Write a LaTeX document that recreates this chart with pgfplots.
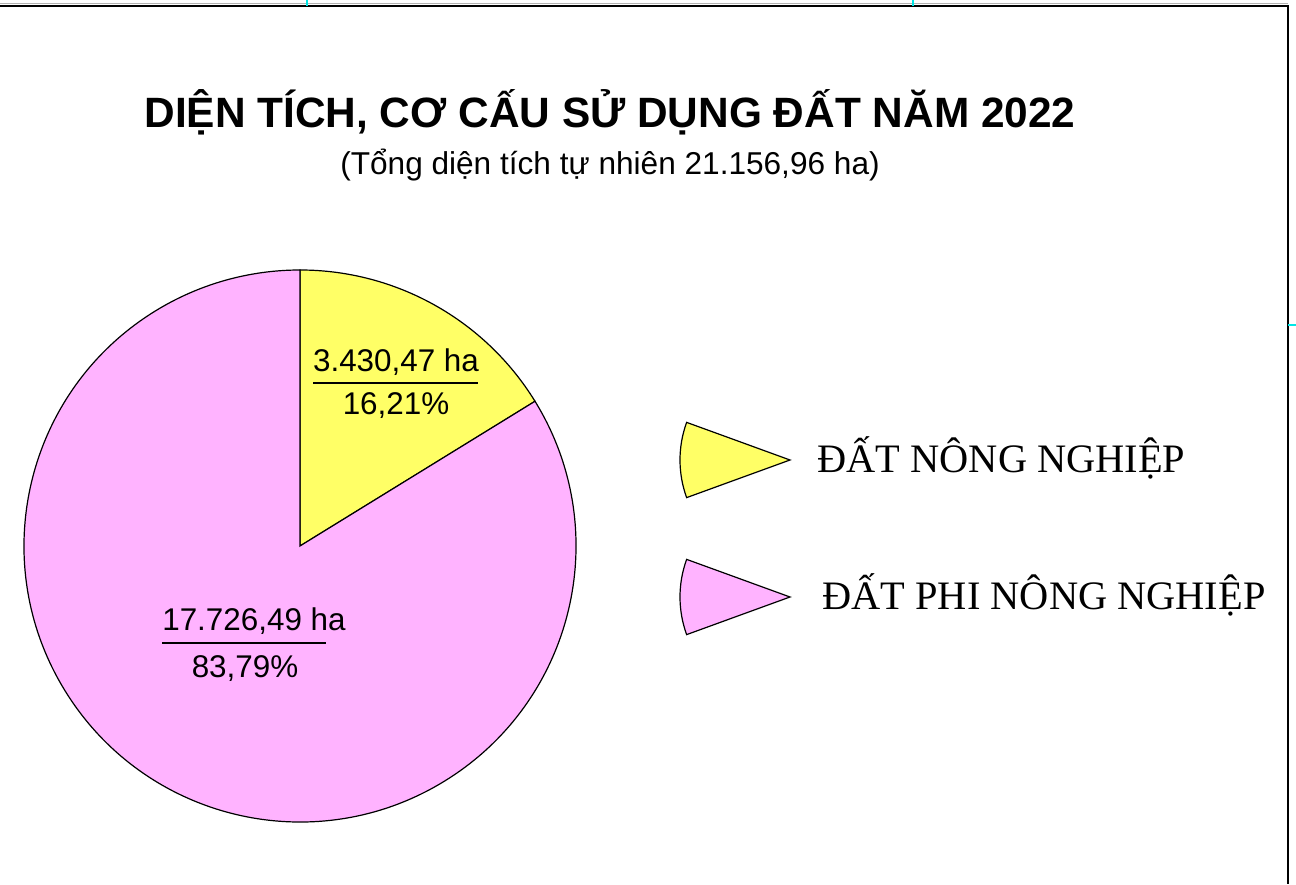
\documentclass[border=0pt]{standalone}
\usepackage{pgfplots}
\pgfplotsset{compat=1.18}
\usepackage{pgfplotstable}
\usepackage{fontspec}
\setmainfont{Liberation Sans}
\newfontfamily\seriffont{Liberation Serif}
\definecolor{pieyellow}{RGB}{255,255,102}
\definecolor{piepink}{RGB}{255,179,255}
\definecolor{guidecyan}{RGB}{0,230,230}
\pgfplotstableread{
value
3430.47
17726.49
}\landuse
\pgfplotstablegetelem{0}{value}\of\landuse \let\valA\pgfplotsretval
\pgfplotstablegetelem{1}{value}\of\landuse \let\valB\pgfplotsretval
\edef\angA{\fpeval{round(360*\valA/(\valA+\valB),4)}}
\edef\endA{\fpeval{90-\angA}}
\begin{document}
\begin{tikzpicture}
\begin{axis}[
  x=0.5pt, y=0.5pt,
  xmin=0, xmax=1296, ymin=0, ymax=884,
  hide axis, clip=false,
]
\coordinate (ll) at (axis cs:0,0);
\coordinate (ur) at (axis cs:1296,884);
% frame artefacts
\draw[gray!60, line width=0.6pt] (axis cs:0,880.5) -- (axis cs:1288,880.5);
\draw[black, line width=0.9pt] (axis cs:0,878) -- (axis cs:1288,878) -- (axis cs:1288,0);
\draw[guidecyan, line width=0.6pt] (axis cs:307,884) -- (axis cs:307,878);
\draw[guidecyan, line width=0.6pt] (axis cs:913,884) -- (axis cs:913,878);
\draw[guidecyan, line width=0.6pt] (axis cs:1288,559) -- (axis cs:1296,559);
% pie (radius 276 px = 138pt)
\filldraw[fill=pieyellow, draw=black, line width=0.6pt]
  (axis cs:300,338) -- ++(90:138pt) arc[start angle=90, end angle=\endA, radius=138pt] -- cycle;
\filldraw[fill=piepink, draw=black, line width=0.6pt]
  (axis cs:300,338) -- ++(\endA:138pt) arc[start angle=\endA, end angle=-270, radius=138pt] -- cycle;
% slice labels
\node[anchor=base, font=\fontsize{15.7}{18}\selectfont, inner sep=0pt] at (axis cs:396,512) {3.430,47 ha};
\draw[line width=0.6pt] (axis cs:313,501) -- (axis cs:478,501);
\node[anchor=base, font=\fontsize{15.7}{18}\selectfont, inner sep=0pt] at (axis cs:396,469) {16,21\%};
\node[anchor=base, font=\fontsize{15.7}{18}\selectfont, inner sep=0pt] at (axis cs:254,253) {17.726,49 ha};
\draw[line width=0.6pt] (axis cs:162,241) -- (axis cs:326,241);
\node[anchor=base, font=\fontsize{15.7}{18}\selectfont, inner sep=0pt] at (axis cs:245,206) {83,79\%};
% titles
\node[anchor=base, font=\fontsize{21.2}{24}\selectfont\bfseries, inner sep=0pt] at (axis cs:610,756) {DIỆN TÍCH, CƠ CẤU SỬ DỤNG ĐẤT NĂM 2022};
\node[anchor=base, font=\fontsize{15.8}{18}\selectfont, inner sep=0pt] at (axis cs:610,709) {(Tổng diện tích tự nhiên 21.156,96 ha)};
% legend
\filldraw[fill=pieyellow, draw=black, line width=0.6pt]
  (axis cs:790,424) -- ++(160:55pt) arc[start angle=160, end angle=200, radius=55pt] -- cycle;
\filldraw[fill=piepink, draw=black, line width=0.6pt]
  (axis cs:790,287) -- ++(160:55pt) arc[start angle=160, end angle=200, radius=55pt] -- cycle;
\node[anchor=base west, font=\seriffont\fontsize{20.2}{24}\selectfont, inner sep=0pt] at (axis cs:817,411) {ĐẤT NÔNG NGHIỆP};
\node[anchor=base west, font=\seriffont\fontsize{20.2}{24}\selectfont, inner sep=0pt] at (axis cs:822,274) {ĐẤT PHI NÔNG NGHIỆP};
\end{axis}
\pgfresetboundingbox
\useasboundingbox (ll) rectangle (ur);
\end{tikzpicture}
\end{document}
